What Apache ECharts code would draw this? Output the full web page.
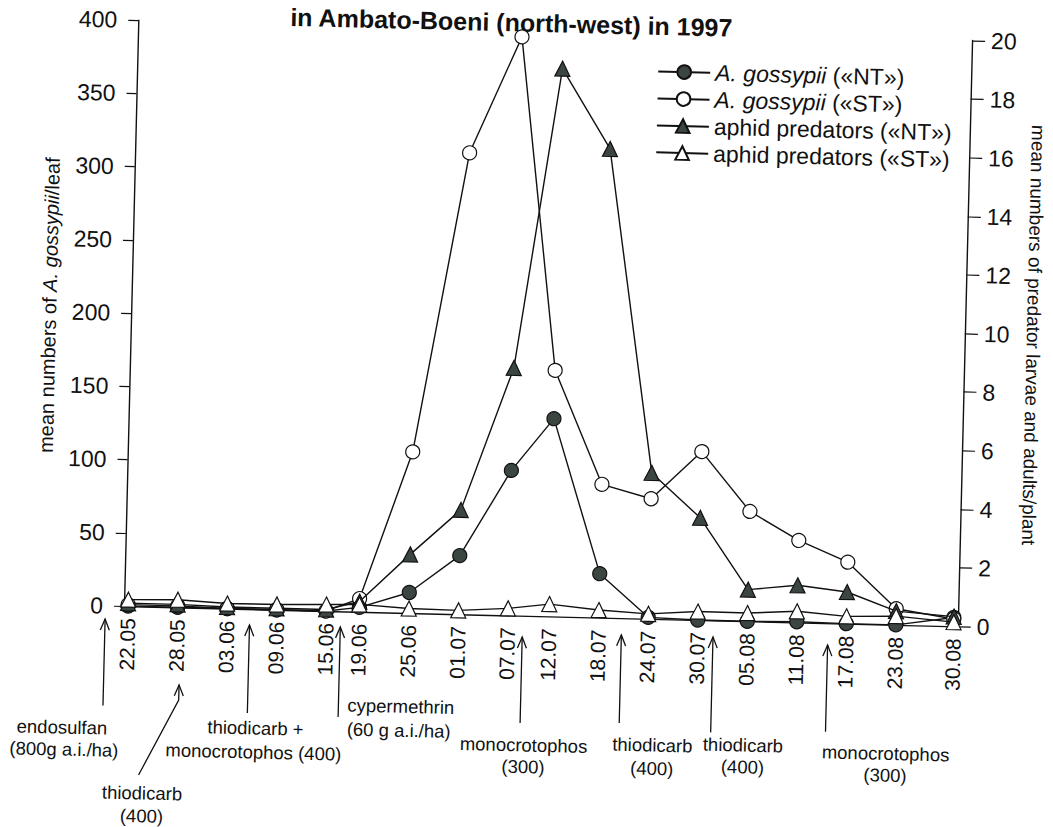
<!DOCTYPE html>
<html><head><meta charset="utf-8">
<script src="https://cdn.jsdelivr.net/npm/echarts@6/dist/echarts.min.js"></script>
<style>
html,body{margin:0;padding:0;width:1053px;height:827px;overflow:hidden;background:#fff;}
#wrap{position:absolute;left:-40px;top:-40px;width:1133px;height:907px;transform-origin:164px 646px;transform:rotate(1.4deg);}
</style></head><body><div id="wrap"></div>
<script>
// ---- data ----
const sampleDates = ['22.05','28.05','03.06','09.06','15.06','19.06','25.06','01.07','07.07','12.07','18.07','24.07','30.07','05.08','11.08','17.08','23.08','30.08'];
const aphidNT = [0,0,0,0,0,3,14,40,99,135,30,1,0,0,0.5,0,0,6];
const aphidST = [1,1,0,0,0,9,110,315,395,168,91,82,115,75,56,42,11,5];
const predNT  = [0.1,0.1,0.05,0.05,0.05,0.35,2.0,3.56,8.45,18.7,16.0,4.98,3.49,1.08,1.27,1.08,0.47,0.33];
const predST  = [0.22,0.26,0.17,0.18,0.22,0.25,0.15,0.13,0.24,0.42,0.26,0.17,0.29,0.28,0.38,0.25,0.3,0.14];
const leftTicks = [0,50,100,150,200,250,300,350,400];
const rightTicks = [0,2,4,6,8,10,12,14,16,18,20];
const seriesNames = ['A. gossypii («NT»)','A. gossypii («ST»)','aphid predators («NT»)','aphid predators («ST»)'];
// spray dates, in days after 22.05
const sprayDays = [-2.75, 6.4, 14.75, 25.75, 47.8, 59.8, 70.9, 84.8];
const sprayLabels = [
  ['endosulfan','(800g a.i./ha)'],
  ['thiodicarb','(400)'],
  ['thiodicarb +','monocrotophos (400)'],
  ['cypermethrin','(60 g a.i./ha)'],
  ['monocrotophos','(300)'],
  ['thiodicarb','(400)'],
  ['thiodicarb','(400)'],
  ['monocrotophos','(300)']
];
const titleText = 'in Ambato-Boeni (north-west) in 1997';

// ---- build day categories 22.05 .. 30.08 ----
function p2(n){return (n<10?'0':'')+n;}
const dayCats = [];
for (let i=0;i<=100;i++){const d=new Date(1997,4,22+i);dayCats.push(p2(d.getDate())+'.'+p2(d.getMonth()+1));}
const pairs = arr => sampleDates.map((d,i)=>[d,arr[i]]);

const PAD = 40;
const FONT = '"Liberation Sans", Arial, Helvetica, sans-serif';
const DARK = '#3b4641';
const chart = echarts.init(document.getElementById('wrap'), null, {renderer:'svg'});

const lineStyle = {color:'#111', width:1.4};
function mk(name, data, yIdx, symbol, size, fill, z){
  return {name, type:'line', data, yAxisIndex:yIdx, symbol, symbolSize:size, z,
    lineStyle, itemStyle:{color:fill, borderColor:'#111', borderWidth:1.2},
    emphasis:{disabled:true}, clip:false};
}

const option = {
  animation:false,
  backgroundColor:'#fff',
  textStyle:{fontFamily:FONT, color:'#111'},
  grid:{left:124+PAD, top:20+PAD, width:834, height:586, containLabel:false},
  legend:{
    orient:'vertical', left:679, top:82, itemWidth:52, itemHeight:17, itemGap:4,
    data:seriesNames,
    textStyle:{fontSize:23, lineHeight:23, color:'#111', fontFamily:FONT,
      rich:{i:{fontStyle:'italic', fontSize:23, lineHeight:23, fontFamily:FONT, color:'#111'}}},
    formatter: n => n.startsWith('A. gossypii') ? '{i|A. gossypii} ' + n.slice(12) : n
  },
  xAxis:{
    type:'category', data:dayCats, boundaryGap:true,
    axisLine:{lineStyle:{color:'#111', width:1.4}},
    axisTick:{interval:0, alignWithLabel:true, length:7, lineStyle:{color:'#111', width:1.2}},
    axisLabel:{interval:(idx,val)=>sampleDates.includes(val), rotate:90, fontSize:21, margin:12, color:'#111', fontFamily:FONT, hideOverlap:false},
    splitLine:{show:false}
  },
  yAxis:[
    {type:'value', min:0, max:400, interval:50, position:'left',
     name:'mean numbers of {i|A. gossypii}/leaf', nameLocation:'middle', nameRotate:90, nameGap:72,
     nameTextStyle:{fontSize:20, color:'#111', fontFamily:FONT, padding:[0,0,0,12],
       rich:{i:{fontStyle:'italic', fontSize:20, fontFamily:FONT, color:'#111'}}},
     axisLine:{show:true, lineStyle:{color:'#111', width:1.4}},
     axisTick:{show:true, length:10, lineStyle:{color:'#111', width:1.2}},
     axisLabel:{fontSize:23, margin:21, color:'#111', fontFamily:FONT},
     splitLine:{show:false}},
    {type:'value', min:0, max:20, interval:2, position:'right',
     name:'mean numbers of predator larvae and adults/plant', nameLocation:'middle', nameRotate:-90, nameGap:59,
     nameTextStyle:{fontSize:19, color:'#111', fontFamily:FONT},
     axisLine:{show:true, lineStyle:{color:'#111', width:1.4}},
     axisTick:{show:true, length:13, lineStyle:{color:'#111', width:1.2}},
     axisLabel:{fontSize:23, margin:19, color:'#111', fontFamily:FONT},
     splitLine:{show:false}}
  ],
  series:[
    mk(seriesNames[0], pairs(aphidNT), 0, 'circle', 14, DARK, 3),
    mk(seriesNames[1], pairs(aphidST), 0, 'circle', 14, '#fff', 4),
    mk(seriesNames[2], pairs(predNT), 1, 'triangle', 15, DARK, 5),
    mk(seriesNames[3], pairs(predST), 1, 'triangle', 15, '#fff', 6)
  ]
};
chart.setOption(option);

// ---- annotations (spray arrows + labels), placed through the x axis scale ----
const x0 = chart.convertToPixel({xAxisIndex:0}, 0);
const x100 = chart.convertToPixel({xAxisIndex:0}, 100);
const dayX = d => x0 + d*(x100-x0)/100;
const annLayout = [
  {tip:619.5, bottom:706, texts:[[-40.5,728.5],[-38,750.5]]},
  {tip:683.5, knee:698.7, foot:[-38.3,774.6], texts:[[-34.4,792.5],[-34.4,815.5]]},
  {tip:622, bottom:710, texts:[[8.5,724.8],[7,748.8]]},
  {tip:621.7, bottom:711.7, texts:[[9,699.5],[9,723.5]], align:'left'},
  {tip:627.3, bottom:713.3, texts:[[4,735.2],[4,756.9]]},
  {tip:622.8, bottom:710.8, texts:[[33.7,732.1],[33.7,755.4]]},
  {tip:622.6, bottom:718, texts:[[32.6,729.9],[32.6,751.6]]},
  {tip:627.8, bottom:714.5, texts:[[60.6,734.7],[60.6,756.4]]}
];
const gfx = [];
const stroke = {stroke:'#111', lineWidth:1.3, fill:null};
sprayDays.forEach((d,i)=>{
  const L = annLayout[i];
  const x = dayX(d);
  const tip = L.tip + PAD;
  if (L.knee){
    gfx.push({type:'polyline', shape:{points:[[x,tip],[x,L.knee+PAD],[x+L.foot[0],L.foot[1]+PAD]]}, style:stroke, silent:true});
  } else {
    gfx.push({type:'line', shape:{x1:x,y1:tip,x2:x,y2:L.bottom+PAD}, style:stroke, silent:true});
  }
  gfx.push({type:'polyline', shape:{points:[[x-4.5,tip+11],[x,tip],[x+4.5,tip+11]]}, style:stroke, silent:true});
  sprayLabels[i].forEach((t,j)=>{
    gfx.push({type:'text', x:x+L.texts[j][0], y:L.texts[j][1]+PAD, silent:true,
      style:{text:t, fill:'#111', fontSize:18.5, fontFamily:FONT, align:L.align||'center', verticalAlign:'middle'}});
  });
});
gfx.push({type:'text', x:537, y:53, silent:true,
  style:{text:titleText, fill:'#111', fontSize:25, fontWeight:'bold', fontFamily:FONT, align:'center', verticalAlign:'middle'}});
chart.setOption({graphic:gfx});
</script></body></html>
